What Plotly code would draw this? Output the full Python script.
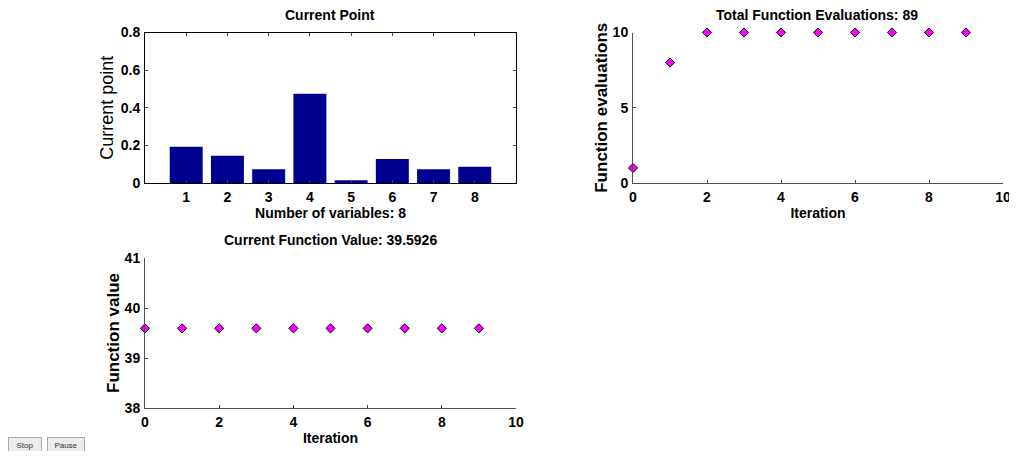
import plotly.graph_objects as go

# ---- data ----
variables = [1, 2, 3, 4, 5, 6, 7, 8]
current_point = [0.193, 0.145, 0.073, 0.475, 0.014, 0.127, 0.073, 0.086]
iterations = [0, 1, 2, 3, 4, 5, 6, 7, 8, 9]
func_evals = [1, 8, 10, 10, 10, 10, 10, 10, 10, 10]
func_values = [39.5926, 39.5926, 39.5926, 39.5926, 39.5926,
               39.5926, 39.5926, 39.5926, 39.5926, 39.5926]

# the page body adds an 8px margin, so reference pixel positions are shifted by 8px
W, H, OFF = 1005, 443, 8


def px(x):
    return (x - OFF) / W


def py(y):
    return 1 - (y - OFF) / H


NARROW = "Liberation Sans Narrow, Arial Narrow, Liberation Sans, Arial, sans-serif"
REG = "Liberation Sans, Arial, sans-serif"
TICKF = dict(family=NARROW, size=14, color="black", weight="bold")
TITF = dict(family=NARROW, size=14, color="black", weight="bold")
YTITF = dict(family=NARROW, size=17, color="black", weight="bold")

fig = go.Figure()
fig.add_trace(go.Bar(x=variables, y=current_point, marker=dict(color="#000090", line=dict(width=0)),
                     width=0.8, xaxis="x", yaxis="y", showlegend=False))
fig.add_trace(go.Scatter(x=iterations, y=func_evals, mode="markers", cliponaxis=False,
                         marker=dict(symbol="diamond", size=7, color="#FF00FF",
                                     line=dict(color="black", width=1)),
                         xaxis="x2", yaxis="y2", showlegend=False))
fig.add_trace(go.Scatter(x=iterations, y=func_values, mode="markers", cliponaxis=False,
                         marker=dict(symbol="diamond", size=7, color="#FF00FF",
                                     line=dict(color="black", width=1)),
                         xaxis="x3", yaxis="y3", showlegend=False))

common = dict(showgrid=False, zeroline=False, showline=True, ticks="inside", ticklen=3,
              tickfont=TICKF, ticklabelstandoff=1, automargin=False, ticklabeloverflow="allow")
scat_line = "#505050"

fig.update_layout(
    template="none",
    width=W, height=H, margin=dict(l=0, r=0, t=0, b=0, pad=0),
    paper_bgcolor="white", plot_bgcolor="white",
    xaxis=dict(domain=[px(145), px(516)], range=[0, 9], tickvals=variables, anchor="y",
               linecolor="black", mirror="ticks", linewidth=1,
               title=dict(text="Number of variables: 8", font=TITF, standoff=4), **common),
    yaxis=dict(domain=[py(183), py(32.5)], range=[0, 0.8], tickvals=[0, 0.2, 0.4, 0.6, 0.8],
               anchor="x", linecolor="black", mirror="ticks", linewidth=1,
               title=dict(text="Current point", font=dict(family=REG, size=18, color="black"), standoff=2),
               **common),
    xaxis2=dict(domain=[px(633), px(1003)], range=[0, 10], tickvals=[0, 2, 4, 6, 8, 10], anchor="y2",
                linecolor=scat_line,
                title=dict(text="Iteration", font=TITF, standoff=4), **common),
    yaxis2=dict(domain=[py(183), py(32.5)], range=[0, 10], tickvals=[0, 5, 10], anchor="x2",
                linecolor=scat_line,
                title=dict(text="Function evaluations", font=YTITF, standoff=0), **common),
    xaxis3=dict(domain=[px(145), px(516)], range=[0, 10], tickvals=[0, 2, 4, 6, 8, 10], anchor="y3",
                linecolor=scat_line,
                title=dict(text="Iteration", font=TITF, standoff=4), **common),
    yaxis3=dict(domain=[py(408), py(258)], range=[38, 41], tickvals=[38, 39, 40, 41], anchor="x3",
                linecolor=scat_line,
                title=dict(text="Function value", font=YTITF, standoff=0), **common),
    annotations=[
        dict(text="Current Point", x=px(330), y=py(15), xref="paper", yref="paper",
             showarrow=False, font=TITF, xanchor="center", yanchor="middle"),
        dict(text="Total Function Evaluations: 89", x=px(817), y=py(15), xref="paper", yref="paper",
             showarrow=False, font=TITF, xanchor="center", yanchor="middle"),
        dict(text="Current Function Value: 39.5926", x=px(330), y=py(240), xref="paper", yref="paper",
             showarrow=False, font=TITF, xanchor="center", yanchor="middle"),
        dict(text="Stop", x=px(25), y=py(445), xref="paper", yref="paper",
             showarrow=False, font=dict(family=REG, size=8, color="#333333"),
             width=30, height=12, bgcolor="#ececec", bordercolor="#a8a8a8", borderwidth=1,
             xanchor="center", yanchor="middle"),
        dict(text="Pause", x=px(66), y=py(445), xref="paper", yref="paper",
             showarrow=False, font=dict(family=REG, size=8, color="#333333"),
             width=34, height=12, bgcolor="#ececec", bordercolor="#a8a8a8", borderwidth=1,
             xanchor="center", yanchor="middle"),
    ],
)

fig.write_html("out.html")
